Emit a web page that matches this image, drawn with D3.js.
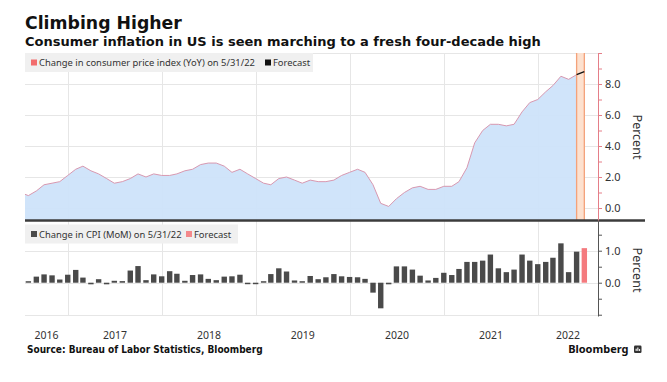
<!DOCTYPE html>
<html><head><meta charset="utf-8">
<script src="https://cdn.jsdelivr.net/npm/d3@7"></script>
<style>body{margin:0;background:#fff}svg{display:block}</style>
</head><body>
<svg id="c" width="667" height="382"></svg>
<script>
// ---------- DATA ----------
const yoyMonths = [
 "2016-06","2016-07","2016-08","2016-09","2016-10","2016-11","2016-12",
 "2017-01","2017-02","2017-03","2017-04","2017-05","2017-06","2017-07","2017-08","2017-09","2017-10","2017-11","2017-12",
 "2018-01","2018-02","2018-03","2018-04","2018-05","2018-06","2018-07","2018-08","2018-09","2018-10","2018-11","2018-12",
 "2019-01","2019-02","2019-03","2019-04","2019-05","2019-06","2019-07","2019-08","2019-09","2019-10","2019-11","2019-12",
 "2020-01","2020-02","2020-03","2020-04","2020-05","2020-06","2020-07","2020-08","2020-09","2020-10","2020-11","2020-12",
 "2021-01","2021-02","2021-03","2021-04","2021-05","2021-06","2021-07","2021-08","2021-09","2021-10","2021-11","2021-12",
 "2022-01","2022-02","2022-03","2022-04","2022-05"];
const yoyValues = [
 1.0,0.8,1.1,1.5,1.6,1.7,2.1,
 2.5,2.7,2.4,2.2,1.9,1.6,1.7,1.9,2.2,2.0,2.2,2.1,
 2.1,2.2,2.4,2.5,2.8,2.9,2.9,2.7,2.3,2.5,2.2,1.9,
 1.6,1.5,1.9,2.0,1.8,1.6,1.8,1.7,1.7,1.8,2.1,2.3,
 2.5,2.3,1.5,0.3,0.1,0.6,1.0,1.3,1.4,1.2,1.2,1.4,
 1.4,1.7,2.6,4.2,5.0,5.4,5.4,5.3,5.4,6.2,6.8,7.0,
 7.5,7.9,8.5,8.3,8.6];
const yoyForecastMonths = ["2022-05","2022-06"];
const yoyForecastValues = [8.6, 8.8];

const momMonths = yoyMonths.slice(1);
const momValues = [
 0.0,0.19,0.26,0.23,0.10,0.25,
 0.40,0.16,-0.05,0.11,-0.05,0.06,0.05,0.38,0.52,0.08,0.26,0.20,
 0.36,0.28,0.06,0.24,0.26,0.12,0.08,0.19,0.20,0.25,-0.03,-0.03,
 0.02,0.27,0.45,0.35,0.07,0.02,0.21,0.11,0.17,0.27,0.20,0.18,
 0.17,0.12,-0.31,-0.80,-0.05,0.51,0.51,0.41,0.22,0.07,0.15,0.31,
 0.24,0.43,0.65,0.65,0.69,0.88,0.45,0.33,0.41,0.88,0.69,0.58,
 0.65,0.78,1.23,0.33,0.97];
const momForecastMonths = ["2022-06"];
const momForecastValues = [1.08];

const topTicks = [0,1,2,3,4,5,6,7,8,9,10];
const topLabels = [0,2,4,6,8];
const botTicks = [-1,-0.5,0,0.5,1,1.5];
const botLabels = [0,1];
const yearLabels = [2016,2017,2018,2019,2020,2021,2022];

// ---------- HELPERS ----------
const monthEnd = s => { const [y,m] = s.split("-").map(Number); return new Date(y, m, 0); };
const svg = d3.select("#c");
const X0 = 25, X1 = 598;
const x = d3.scaleTime().domain([new Date(2017,0,1), new Date(2022,0,1)]).range([68,538]);
x.domain([x.invert(X0), x.invert(X1)]).range([X0, X1]);

const T0 = 53, T1 = 220, B0 = 221, B1 = 316;
const yTop = d3.scaleLinear().domain([-0.774, 10]).range([T1, T0]);
const yBot = d3.scaleLinear().domain([-1.04, 1.928]).range([B1, B0]);

const regFont = "'Noto Sans', 'Open Sans', sans-serif";
const boldFont = "'DejaVu Sans', sans-serif";

// Title
svg.append("text").attr("x",25).attr("y",29).attr("font-family",boldFont).attr("font-weight","bold")
  .attr("font-size",17.3).attr("fill","#111").text("Climbing Higher");
svg.append("text").attr("x",25).attr("y",46).attr("font-family",boldFont).attr("font-weight","bold")
  .attr("font-size",13).attr("fill","#111").text("Consumer inflation in US is seen marching to a fresh four-decade high");

// clip
svg.append("clipPath").attr("id","clipTop").append("rect").attr("x",X0).attr("y",T0).attr("width",X1-X0).attr("height",T1-T0);

// grid lines
const grid = svg.append("g").attr("stroke","#e6e6e6").attr("stroke-width",1);
[0,2,4,6,8,10].forEach(v => grid.append("line").attr("x1",X0).attr("x2",X1).attr("y1",Math.round(yTop(v))+0.5).attr("y2",Math.round(yTop(v))+0.5));
[-1,0,1].forEach(v => grid.append("line").attr("x1",X0).attr("x2",X1).attr("y1",Math.round(yBot(v))+0.5).attr("y2",Math.round(yBot(v))+0.5));
d3.range(2017,2023).forEach(yr => { const xx = Math.round(x(new Date(yr,0,1)))+0.5;
  grid.append("line").attr("x1",xx).attr("x2",xx).attr("y1",T0).attr("y2",B1); });

// area
const yoy = yoyMonths.map((m,i)=>({d:monthEnd(m), v:yoyValues[i]}));
const area = d3.area().x(d=>x(d.d)).y0(T1).y1(d=>yTop(d.v));
const line = d3.line().x(d=>x(d.d)).y(d=>yTop(d.v));
const gTop = svg.append("g").attr("clip-path","url(#clipTop)");
gTop.append("path").datum(yoy).attr("d",area).attr("fill","#cde3fa").attr("fill-opacity",0.95);
gTop.append("path").datum(yoy).attr("d",line).attr("fill","none").attr("stroke","#d898b0").attr("stroke-width",1);

// forecast band
const fb0 = x(monthEnd("2022-05")), fb1 = x(monthEnd("2022-06"));
svg.append("rect").attr("x",fb0).attr("y",T0).attr("width",fb1-fb0).attr("height",T1-T0).attr("fill","#fde1cf");
[fb0,fb1].forEach(xx => svg.append("line").attr("x1",xx).attr("x2",xx).attr("y1",T0).attr("y2",T1).attr("stroke","#f4a27a").attr("stroke-width",1.3));
const fc = yoyForecastMonths.map((m,i)=>({d:monthEnd(m), v:yoyForecastValues[i]}));
svg.append("path").datum(fc).attr("d",line).attr("fill","none").attr("stroke","#111").attr("stroke-width",1.3);

// bars
const mom = momMonths.map((m,i)=>({d:monthEnd(m), v:momValues[i], f:false}))
  .concat(momForecastMonths.map((m,i)=>({d:monthEnd(m), v:momForecastValues[i], f:true})));
const bw = 5.4, z = yBot(0);
svg.append("g").selectAll("rect").data(mom).join("rect")
  .attr("x", d=>x(d.d)-bw/2).attr("width",bw)
  .attr("y", d=> d.v>=0 ? Math.min(yBot(d.v), z-1.5) : z)
  .attr("height", d=> Math.max(Math.abs(yBot(d.v)-z),1.5))
  .attr("fill", d=> d.f ? "#f47a7e" : "#4a4a4a");

// separator
svg.append("line").attr("x1",X0).attr("x2",645).attr("y1",220.5).attr("y2",220.5).attr("stroke","#3c3c3c").attr("stroke-width",2.6);

// axes
const f1 = d3.format(".1f");
const axTop = svg.append("g").attr("transform",`translate(${X1},0)`)
  .call(d3.axisRight(yTop).tickValues(topTicks).tickSize(4).tickSizeOuter(0).tickPadding(3)
    .tickFormat(d => topLabels.includes(d) ? f1(d) : ""));
axTop.select(".domain").attr("stroke","#e57e88");
axTop.selectAll(".tick line").attr("stroke","#e57e88");
axTop.selectAll(".tick text").attr("font-family",regFont).attr("font-size",11).attr("fill","#333");
const axBot = svg.append("g").attr("transform",`translate(${X1},0)`)
  .call(d3.axisRight(yBot).tickValues(botTicks).tickSize(4).tickSizeOuter(0).tickPadding(3)
    .tickFormat(d => botLabels.includes(d) ? f1(d) : ""));
axBot.select(".domain").attr("stroke","#555");
axBot.selectAll(".tick line").attr("stroke","#555");
axBot.selectAll(".tick text").attr("font-family",regFont).attr("font-size",11).attr("fill","#333");

[[137,"Percent"],[270,"Percent"]].forEach(([cy,t]) =>
  svg.append("text").attr("transform",`translate(633,${cy}) rotate(90)`).attr("text-anchor","middle")
    .attr("font-family",regFont).attr("font-size",12.5).attr("fill","#333").text(t));

// legends
function legend(y, w, sq1, t1, sq2x, sq2, t2){
  const g = svg.append("g");
  g.append("rect").attr("x",X0).attr("y",y).attr("width",w).attr("height",19).attr("fill","#f0f0f0");
  g.append("rect").attr("x",31).attr("y",y+6.5).attr("width",6).attr("height",6).attr("fill",sq1);
  g.append("text").attr("x",39).attr("y",y+13.3).attr("font-family",regFont).attr("font-size",9.4).attr("fill","#333").text(t1);
  g.append("rect").attr("x",sq2x).attr("y",y+6.5).attr("width",6).attr("height",6).attr("fill",sq2);
  g.append("text").attr("x",sq2x+8).attr("y",y+13.3).attr("font-family",regFont).attr("font-size",9.4).attr("fill","#333").text(t2);
}
legend(T0, 288, "#f26d6d", "Change in consumer price index (YoY) on 5/31/22", 265, "#111", "Forecast");
legend(224.5, 213, "#4a4a4a", "Change in CPI (MoM) on 5/31/22", 186, "#f4898c", "Forecast");

// year labels
yearLabels.forEach(yr => {
  const a = Math.max(x(new Date(yr,0,1)), X0), b = Math.min(x(new Date(yr+1,0,1)), X1);
  svg.append("text").attr("x",(a+b)/2).attr("y",338.8).attr("text-anchor","middle")
    .attr("font-family",regFont).attr("font-size",10.5).attr("fill","#333").text(yr);
});

// source & logo
svg.append("text").attr("x",27).attr("y",352.5).attr("font-family","'DejaVu Sans Condensed', 'DejaVu Sans', sans-serif")
  .attr("font-weight","bold").attr("font-size",10).attr("fill","#111").text("Source: Bureau of Labor Statistics, Bloomberg");
svg.append("text").attr("x",628.5).attr("y",353.3).attr("text-anchor","end").attr("font-family",regFont)
  .attr("font-weight","bold").attr("font-size",11).attr("fill","#111").text("Bloomberg");
const lg = svg.append("g").attr("transform","translate(634,345.5)");
lg.append("rect").attr("width",7.5).attr("height",7.5).attr("rx",1.2).attr("fill","#333");
[[1.6,3.2,1.2],[3.3,2.0,2.4],[5.0,3.6,0.8]].forEach(([bx,by,bh]) =>
  lg.append("rect").attr("x",bx).attr("y",by).attr("width",1.1).attr("height",bh+1).attr("fill","#fff"));
</script>
</body></html>
